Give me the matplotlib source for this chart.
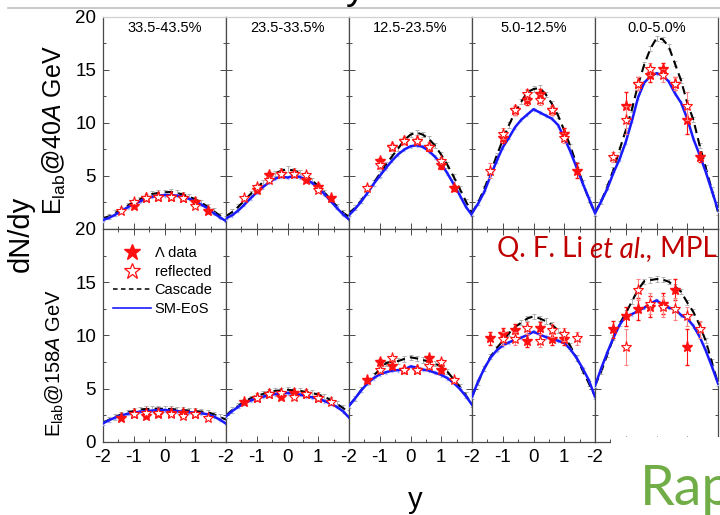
import numpy as np
import matplotlib
matplotlib.use("Agg")
import matplotlib.pyplot as plt
from matplotlib.ticker import MultipleLocator
from matplotlib.lines import Line2D
from matplotlib.patches import Rectangle

plt.rcParams['font.family'] = ['Liberation Sans', 'DejaVu Sans']
plt.rcParams['mathtext.fontset'] = 'custom'
plt.rcParams['mathtext.rm'] = 'Liberation Sans'
plt.rcParams['mathtext.it'] = 'Liberation Sans:italic'

# ---------------- data ----------------
centralities = ["33.5-43.5%", "23.5-33.5%", "12.5-23.5%", "5.0-12.5%", "0.0-5.0%"]

rapidity = [-2.0, -1.8, -1.6, -1.4, -1.2, -1.0, -0.8, -0.6, -0.4, -0.2, 0.0,
            0.2, 0.4, 0.6, 0.8, 1.0, 1.2, 1.4, 1.6, 1.8, 2.0]

# UrQMD cascade, E_lab = 40A GeV
cascade_40 = [
    [1.0, 1.2, 1.5, 1.85, 2.2, 2.55, 2.8, 3.05, 3.3, 3.4, 3.45, 3.5, 3.4, 3.25, 3.05, 2.8, 2.5, 2.1, 1.7, 1.25, 0.95],
    [1.2, 1.6, 2.1, 2.7, 3.3, 3.9, 4.4, 4.85, 5.25, 5.5, 5.65, 5.5, 5.35, 5.05, 4.6, 4.05, 3.45, 2.8, 2.15, 1.55, 1.15],
    [1.5, 2.0, 2.7, 3.5, 4.35, 5.2, 6.05, 6.85, 7.6, 8.4, 8.9, 9.1, 8.9, 8.5, 7.85, 7.0, 6.05, 4.95, 3.8, 2.6, 1.5],
    [1.5, 2.5, 3.8, 5.3, 6.9, 8.4, 9.8, 11.0, 12.0, 12.9, 13.2, 13.3, 12.7, 11.8, 10.7, 9.3, 7.8, 6.1, 4.4, 2.8, 1.5],
    [1.5, 2.6, 4.0, 5.6, 7.5, 9.3, 11.3, 13.6, 15.5, 17.0, 18.0, 17.9, 17.2, 15.6, 14.0, 11.9, 10.3, 7.9, 5.8, 3.7, 1.6],
]
# UrQMD with SM-EoS, E_lab = 40A GeV
eos_40 = [
    [0.85, 1.05, 1.35, 1.7, 2.05, 2.35, 2.6, 2.85, 3.05, 3.15, 3.2, 3.2, 3.15, 3.05, 2.85, 2.6, 2.3, 1.95, 1.5, 1.1, 0.75],
    [1.0, 1.3, 1.75, 2.3, 2.9, 3.45, 3.95, 4.4, 4.75, 4.95, 4.85, 5.0, 4.9, 4.7, 4.35, 3.85, 3.3, 2.65, 2.0, 1.4, 0.9],
    [1.3, 1.9, 2.6, 3.4, 4.25, 5.0, 5.75, 6.45, 7.05, 7.5, 7.8, 7.9, 7.75, 7.35, 6.8, 6.15, 5.25, 4.25, 3.2, 2.1, 1.3],
    [1.5, 2.4, 3.5, 5.0, 6.4, 7.7, 8.6, 9.6, 10.3, 10.8, 11.3, 11.0, 10.7, 10.4, 9.8, 8.6, 7.3, 5.8, 4.3, 2.9, 1.5],
    [1.5, 2.6, 3.8, 5.3, 6.6, 8.2, 10.2, 12.4, 13.8, 14.4, 14.7, 14.5, 13.9, 12.8, 11.9, 10.4, 8.5, 7.0, 5.4, 3.6, 1.8],
]
# UrQMD cascade, E_lab = 158A GeV
cascade_158 = [
    [1.8, 2.1, 2.35, 2.6, 2.8, 2.9, 3.05, 3.1, 3.1, 3.15, 3.1, 3.1, 3.05, 3.0, 2.95, 2.9, 2.85, 2.8, 2.6, 2.35, 2.1],
    [2.5, 3.0, 3.4, 3.8, 4.1, 4.35, 4.5, 4.7, 4.8, 4.85, 4.9, 4.85, 4.8, 4.7, 4.6, 4.45, 4.25, 3.95, 3.6, 3.2, 2.8],
    [3.4, 4.1, 4.9, 5.6, 6.25, 6.8, 7.4, 7.55, 7.6, 7.8, 7.95, 7.85, 7.7, 7.55, 7.35, 7.1, 6.6, 5.9, 5.2, 4.4, 3.5],
    [4.25, 5.6, 6.9, 8.0, 8.8, 9.5, 10.2, 10.8, 11.2, 11.6, 11.8, 11.6, 11.35, 11.0, 10.5, 9.9, 9.0, 7.9, 6.7, 5.5, 4.3],
    [5.3, 6.6, 8.2, 9.8, 11.1, 12.1, 13.2, 14.3, 15.1, 15.2, 15.3, 15.25, 15.05, 14.6, 14.1, 13.1, 12.2, 11.0, 9.5, 7.5, 5.5],
]
# UrQMD with SM-EoS, E_lab = 158A GeV
eos_158 = [
    [1.75, 2.05, 2.3, 2.5, 2.65, 2.75, 2.85, 2.9, 2.95, 3.0, 3.0, 2.95, 2.9, 2.85, 2.8, 2.75, 2.7, 2.6, 2.4, 2.1, 1.72],
    [2.4, 2.9, 3.3, 3.65, 3.9, 4.1, 4.25, 4.4, 4.5, 4.55, 4.6, 4.55, 4.45, 4.3, 4.2, 4.05, 3.85, 3.6, 3.3, 2.9, 2.3],
    [3.4, 4.1, 4.85, 5.5, 6.0, 6.35, 6.55, 6.7, 6.75, 6.8, 7.1, 7.0, 6.8, 6.7, 6.5, 6.3, 6.0, 5.55, 5.0, 4.3, 3.5],
    [4.25, 5.7, 6.9, 7.9, 8.6, 9.05, 9.35, 9.6, 9.8, 10.05, 10.35, 10.1, 9.85, 9.7, 9.5, 9.3, 8.7, 7.9, 6.9, 5.8, 4.25],
    [5.3, 6.9, 8.4, 9.8, 11.0, 11.8, 12.0, 12.3, 12.6, 13.0, 13.3, 12.9, 12.6, 12.5, 11.9, 11.6, 10.9, 9.9, 8.6, 7.1, 5.5],
]
model_err = 0.25

# NA49 Lambda data
lambda_y_40 = [-1.0, -0.6, -0.2, 0.2, 0.6, 1.0, 1.4]
lambda_40 = [
    [2.2, 2.9, 3.0, 3.05, 2.9, 2.56, 1.72],
    [3.72, 5.1, 5.23, 5.23, 4.66, 3.97, 2.88],
    [6.4, 7.75, 8.3, 8.3, 7.7, 6.0, 3.85],
    [8.6, 11.2, 12.2, 12.7, 11.2, 9.0, 5.5],
    [11.6, 13.7, 14.5, 15.1, 13.7, 10.3, 6.8],
]
lambda_err_40 = [
    [0.2, 0.2, 0.2, 0.2, 0.2, 0.2, 0.2],
    [0.25, 0.25, 0.25, 0.25, 0.25, 0.25, 0.25],
    [0.3, 0.3, 0.3, 0.3, 0.3, 0.3, 0.3],
    [0.5, 0.4, 0.5, 0.5, 0.4, 0.5, 0.7],
    [1.3, 0.6, 0.6, 0.6, 0.6, 1.3, 0.5],
]
lambda_y_158 = [-1.4, -1.0, -0.6, -0.2, 0.2, 0.6, 1.0]
lambda_158 = [
    [2.3, 2.6, 2.45, 2.65, 2.7, 2.7, 2.6],
    [3.75, 4.1, 4.5, 4.2, 4.6, 4.5, 4.1],
    [5.8, 7.55, 7.1, 6.75, 6.8, 7.85, 6.75],
    [9.75, 10.1, 10.5, 9.5, 10.7, 9.7, 9.7],
    [10.6, 11.8, 12.5, 12.7, 13.0, 14.3, 8.9],
]
lambda_err_158 = [
    [0.15, 0.15, 0.15, 0.15, 0.15, 0.15, 0.15],
    [0.2, 0.2, 0.2, 0.2, 0.2, 0.2, 0.2],
    [0.25, 0.25, 0.25, 0.25, 0.25, 0.25, 0.25],
    [0.6, 0.6, 0.6, 0.6, 0.6, 0.6, 0.6],
    [0.8, 0.9, 1.0, 1.0, 1.0, 1.0, 1.7],
]

y_ticks = [0, 5, 10, 15, 20]
x_ticks = [-2, -1, 0, 1, 2]

# ---------------- layout ----------------
W, H = 720, 515
fig = plt.figure(figsize=(W / 100, H / 100), dpi=100)

PANEL_LEFT, PANEL_W = 103, 123
ROWS = [(17, 229), (229, 442)]

RED = '#ff1010'
BLUE = '#1a1aff'
SPINE = '#4a4a4a'


def fx(px):
    return px / W


def fy(py):
    return 1 - py / H


def draw_panel(ax, casc, eos, lx, lv, le):
    x = np.array(rapidity)
    ax.errorbar(x, casc, yerr=model_err, color='black', ls=(0, (4, 2.5)), lw=1.5,
                ecolor='#b0b0b0', elinewidth=0.7, capsize=1.5, capthick=0.7, zorder=2)
    ax.errorbar(x, eos, yerr=model_err * 0.6, color=BLUE, lw=1.8,
                ecolor='#a8b0ff', elinewidth=0.7, capsize=1.0, zorder=3)
    lx = np.array(lx)
    ax.errorbar(lx, lv, yerr=le, fmt='*', color=RED, ms=8, ecolor=RED,
                elinewidth=0.8, capsize=1.5, zorder=4)
    ax.errorbar(-lx, lv, yerr=le, fmt='*', mfc='white', mec=RED, mew=0.8, ms=8,
                ecolor='#ff8080', elinewidth=0.8, capsize=1.5, zorder=5)


axes = []
for r, (top, bot) in enumerate(ROWS):
    model_c = cascade_40 if r == 0 else cascade_158
    model_e = eos_40 if r == 0 else eos_158
    lam_x = lambda_y_40 if r == 0 else lambda_y_158
    lam_v = lambda_40 if r == 0 else lambda_158
    lam_e = lambda_err_40 if r == 0 else lambda_err_158
    for c in range(5):
        left = PANEL_LEFT + c * PANEL_W
        ax = fig.add_axes([fx(left), fy(bot), PANEL_W / W, (bot - top) / H])
        draw_panel(ax, model_c[c], model_e[c], lam_x, lam_v[c], lam_e[c])
        ax.set_xlim(-2, 2)
        ax.set_ylim(0, 20)
        ax.set_xticks(x_ticks)
        ax.set_yticks(y_ticks)
        ax.xaxis.set_minor_locator(MultipleLocator(0.5))
        ax.yaxis.set_minor_locator(MultipleLocator(2.5))
        ax.tick_params(which='both', direction='in', top=True, right=True,
                       width=0.7, colors=SPINE, labelcolor='black', labelsize=13.5)
        ax.tick_params(which='major', length=4, pad=5)
        ax.tick_params(which='minor', length=2)
        for s in ax.spines.values():
            s.set_color(SPINE)
            s.set_linewidth(0.9)
        if r == 0:
            ax.spines['top'].set_color('#d0d0d0')
            ax.tick_params(top=False, which='both')
            ax.set_xticklabels([])
            ax.text(0.5, 0.948, centralities[c], transform=ax.transAxes,
                    ha='center', va='center', fontsize=10.5)
        elif c < 4:
            ax.set_xticklabels(['-2', '-1', '0', '1', ''])
        else:
            # the right part of this axis sits under the slide heading box
            ax.set_xticklabels(['-2', '', '', '', ''])
        if c == 0:
            if r == 0:
                ax.set_yticklabels(['', '5', '10', '15', '20'])
            else:
                ax.set_yticklabels(['0', '5', '10', '15', '20'])
        else:
            ax.set_yticklabels([])
        axes.append(ax)

# legend in the first 158A GeV panel
leg_ax = axes[5]
handles = [
    Line2D([], [], ls='none', marker='*', color=RED, ms=12),
    Line2D([], [], ls='none', marker='*', mfc='white', mec=RED, mew=0.9, ms=12),
    Line2D([], [], color='black', ls=(0, (3, 2.2)), lw=1.1),
    Line2D([], [], color=BLUE, lw=1.2),
]
labels = ['\u039b data', 'reflected', 'Cascade', 'SM-EoS']
leg_ax.legend(handles, labels, loc='upper left', bbox_to_anchor=(10 / 123, (442 - 246) / 213),
              frameon=False, fontsize=10.5, handlelength=2.6, handletextpad=0.25,
              labelspacing=0.32, borderpad=0, borderaxespad=0)

# axis titles
fig.text(fx(21), fy(234), 'dN/dy', rotation=90, fontsize=21, ha='center', va='center')
fig.text(fx(415), fy(500), 'y', fontsize=21, ha='center', va='center')
fig.text(fx(54), fy(130), r'E$_{\rm lab}$@40$\it{A}$ GeV', rotation=90, fontsize=18,
         ha='center', va='center')
fig.text(fx(54), fy(363), r'E$_{\rm lab}$@158$\it{A}$ GeV', rotation=90, fontsize=14.5,
         ha='center', va='center')

# slide decorations: header rule and title tail
fig.add_artist(Line2D([fx(8), 1], [fy(7.5), fy(7.5)], color='#c0c0c0', lw=1.2))
fig.text(fx(356), fy(-1), 'y', fontsize=28, ha='center', va='baseline')

# reference citation
FONT_SLIDE = ['Lato', 'DejaVu Sans']
fig.canvas.draw()
renderer = fig.canvas.get_renderer()
cx = fx(497)
cy = fy(257)
for part, style in [('Q. F. Li ', 'normal'), ('et al.,', 'italic'), (' MPL', 'normal')]:
    t = fig.text(cx, cy, part, color='#C00000', fontsize=20, style=style,
                 family=FONT_SLIDE, va='baseline', ha='left')
    bb = t.get_window_extent(renderer)
    cx = bb.x1 / W

# box of the slide heading at the lower right
fig.add_artist(Rectangle((fx(611), 0), 1 - fx(611), fy(436.5), transform=fig.transFigure,
                         facecolor='white', edgecolor='none', zorder=5))
fig.text(fx(640), fy(505), 'Rap', fontsize=40, color='#70AD47', family=FONT_SLIDE,
         va='baseline', ha='left', zorder=6)

fig.savefig('out.png', dpi=100)
